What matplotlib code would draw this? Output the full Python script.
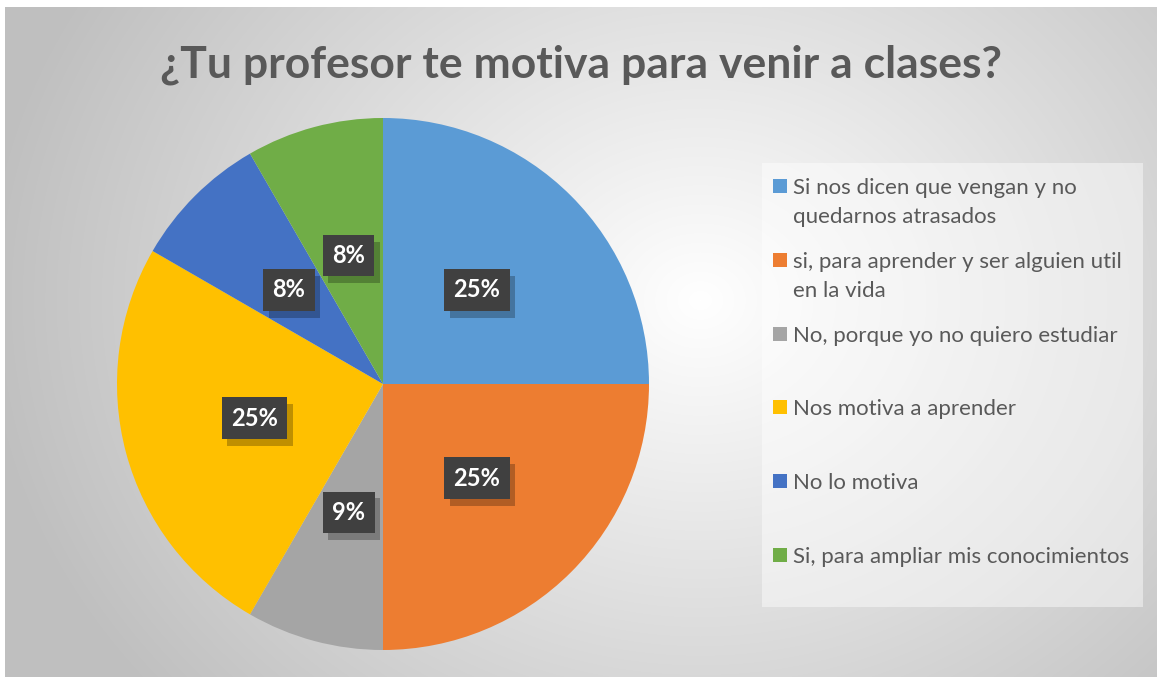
import numpy as np
import matplotlib
matplotlib.use("Agg")
import matplotlib.pyplot as plt
import matplotlib.patches as mpatches
import matplotlib.patheffects as pe

# ---- data ----
title = "¿Tu profesor te motiva para venir a clases?"
categories = [
    "Si nos dicen que vengan y no\nquedarnos atrasados",
    "si, para aprender y ser alguien util\nen la vida",
    "No, porque yo no quiero estudiar",
    "Nos motiva a aprender",
    "No lo motiva",
    "Si, para ampliar mis conocimientos",
]
counts = [3, 3, 1, 3, 1, 1]
pct_labels = ["25%", "25%", "9%", "25%", "8%", "8%"]
colors = ["#5B9BD5", "#ED7D31", "#A5A5A5", "#FFC000", "#4472C4", "#70AD47"]

W, H = 1157, 677
fig = plt.figure(figsize=(W / 100, H / 100), dpi=100)
fig.patch.set_facecolor("white")

def fx(px):
    return px / W

def fy(py):
    return 1 - py / H

# ---- background gradient (chart area) ----
x0, y0, x1, y1 = 5, 7, 1157, 677
bg = fig.add_axes([fx(x0), fy(y1), fx(x1 - x0), (y1 - y0) / H])
bg.set_axis_off()
yy, xx = np.mgrid[y0:y1, x0:x1]
cx, cy = 700, 300
d = np.sqrt(((xx - cx) / 1.0) ** 2 + ((yy - cy) / 0.85) ** 2)
t = np.clip(d / 720.0, 0, 1)
light, dark = 1.0, 0.75
val = light + (dark - light) * t
img = np.dstack([val, val, val])
bg.imshow(img, aspect="auto", extent=[0, 1, 0, 1], origin="upper")
bg.set_xlim(0, 1)
bg.set_ylim(0, 1)

# ---- title ----
fig.text(fx(581), fy(65), title, ha="center", va="center",
         fontsize=32, fontweight="bold", color="#595959", family="Lato")

# ---- pie ----
pcx, pcy, r = 383, 384, 266
ax = fig.add_axes([fx(pcx - r), fy(pcy + r), fx(2 * r), 2 * r / H])
ax.set_axis_off()
it = iter(pct_labels)
wedges, texts, autotexts = ax.pie(
    counts, colors=colors, startangle=90, counterclock=False,
    autopct=lambda p: next(it), pctdistance=0.5, radius=1.0,
    wedgeprops=dict(linewidth=0))
ax.set_xlim(-1, 1)
ax.set_ylim(-1, 1)
ax.set_aspect("equal")

for at in autotexts:
    at.set_color("white")
    at.set_fontsize(17)
    at.set_fontweight("bold")
    at.set_family("Lato")
    at.set_bbox(dict(boxstyle="square,pad=0.4", fc="#404040", ec="none"))
    at.set_zorder(5)
    at.get_bbox_patch().set_path_effects([
        pe.SimplePatchShadow(offset=(4, -5), shadow_rgbFace="black", alpha=0.25),
        pe.Normal()])

# ---- legend (manual, fixed slots like Excel) ----
lx0, ly0, lx1, ly1 = 762, 163, 1143, 607
fig.patches.append(mpatches.Rectangle((fx(lx0), fy(ly1)), fx(lx1 - lx0), (ly1 - ly0) / H,
                                      transform=fig.transFigure, fc="white",
                                      alpha=0.45, ec="none", zorder=1))
first_y = 186
step = 73.8
for i, (lab, col) in enumerate(zip(categories, colors)):
    yc = first_y + i * step
    fig.patches.append(mpatches.Rectangle((fx(773), fy(yc + 7)), fx(14), 14 / H,
                                          transform=fig.transFigure, fc=col,
                                          ec="none", zorder=3))
    for j, line in enumerate(lab.split("\n")):
        fig.text(fx(793), fy(yc + j * 29), line, ha="left", va="center_baseline",
                 fontsize=16, color="#595959", family="Lato", zorder=3)

fig.savefig("out.png", dpi=100, facecolor=fig.get_facecolor())
